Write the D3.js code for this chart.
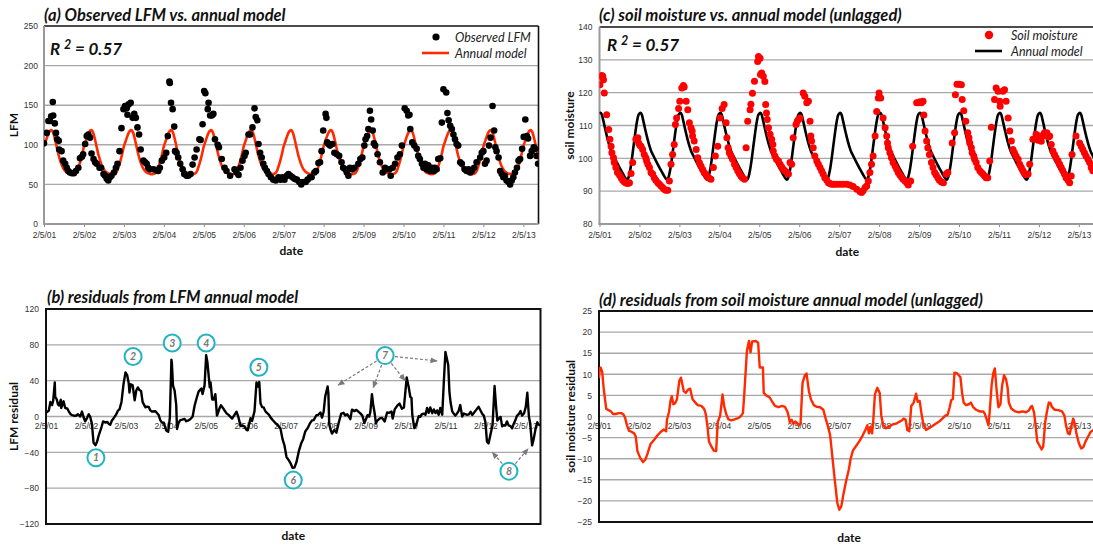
<!DOCTYPE html>
<html>
<head>
<meta charset="utf-8">
<script src="https://cdn.jsdelivr.net/npm/d3@7"></script>
<style>
  html, body { margin: 0; padding: 0; background: #fff; }
  svg { display: block; }
  text { font-family: "Liberation Sans", Arial, sans-serif; }
  .title { font-family: Lato, "Open Sans", sans-serif; font-weight: 700; font-style: italic; font-size: 16.5px; fill: #111; }
  .axis-title { font-family: Lato, "Open Sans", sans-serif; font-weight: 700; font-size: 12px; fill: #111; }
  .tick text { font-size: 8.5px; fill: #333; }
  .legend { font-family: Lato, "Open Sans", sans-serif; font-style: italic; font-size: 12.5px; fill: #222; }
  .r2 { font-family: Lato, "Open Sans", sans-serif; font-weight: 700; font-style: italic; font-size: 17px; fill: #111; }
  .anno { font-family: Lato, "Open Sans", sans-serif; font-weight: 700; font-style: italic; font-size: 10.5px; fill: #777; }
</style>
</head>
<body>
<svg id="chart" width="1093" height="546"></svg>
<script>
// ---- data -------------------------------------------------------------
// time is expressed in years elapsed since 2/5/01
const yearTickLabels = ["2/5/01","2/5/02","2/5/03","2/5/04","2/5/05","2/5/06","2/5/07",
                        "2/5/08","2/5/09","2/5/10","2/5/11","2/5/12","2/5/13"];
const timeEnd = 12.38;

// observed live fuel moisture samples [years, LFM]
const lfmObserved = [
  [0.00,102],[0.07,115],[0.11,130],[0.15,130],[0.18,136],[0.22,154],[0.23,137],[0.27,127],[0.30,115],[0.33,107],
  [0.37,105],[0.38,94],[0.44,92],[0.48,80],[0.53,76],[0.57,71],[0.61,67],[0.65,65],[0.70,64],[0.75,64],
  [0.80,67],[0.86,71],[0.90,83],[0.95,85],[0.98,88],[1.03,101],[1.07,111],[1.11,113],[1.15,109],[1.19,89],
  [1.24,82],[1.28,78],[1.32,76],[1.39,71],[1.43,71],[1.49,63],[1.53,61],[1.57,57],[1.61,55],[1.65,59],
  [1.69,61],[1.75,65],[1.80,71],[1.84,76],[1.89,92],[1.94,121],[1.99,145],[2.03,149],[2.07,146],[2.09,138],
  [2.12,151],[2.17,153],[2.22,134],[2.26,139],[2.30,134],[2.34,122],[2.38,113],[2.42,94],[2.49,80],[2.53,78],
  [2.57,76],[2.61,71],[2.65,69],[2.74,69],[2.82,68],[2.86,67],[2.90,71],[2.95,80],[3.01,84],[3.06,90],
  [3.10,111],[3.14,180],[3.15,178],[3.18,153],[3.22,145],[3.26,123],[3.28,92],[3.32,90],[3.36,84],[3.41,76],
  [3.47,69],[3.51,63],[3.57,61],[3.61,61],[3.67,63],[3.72,75],[3.77,84],[3.82,94],[3.89,107],[3.92,106],
  [3.97,126],[4.01,168],[4.04,165],[4.10,145],[4.12,153],[4.16,137],[4.20,137],[4.24,139],[4.28,107],[4.35,100],
  [4.38,97],[4.45,82],[4.52,71],[4.57,67],[4.66,61],[4.77,69],[4.82,65],[4.87,62],[4.92,71],[4.97,80],
  [5.02,86],[5.05,90],[5.12,113],[5.16,113],[5.22,122],[5.27,146],[5.30,135],[5.34,131],[5.37,101],[5.41,90],
  [5.45,84],[5.49,76],[5.53,71],[5.58,67],[5.62,63],[5.68,59],[5.74,56],[5.80,55],[5.87,59],[5.92,56],
  [5.97,59],[6.02,56],[6.08,61],[6.12,63],[6.17,61],[6.22,59],[6.27,57],[6.33,56],[6.39,53],[6.44,50],
  [6.49,53],[6.55,53],[6.60,56],[6.66,59],[6.70,59],[6.77,65],[6.81,67],[6.87,77],[6.91,78],[6.95,92],
  [6.99,118],[7.05,139],[7.07,134],[7.09,103],[7.12,101],[7.16,99],[7.22,101],[7.27,90],[7.33,88],[7.39,86],
  [7.45,78],[7.49,71],[7.54,69],[7.58,65],[7.62,61],[7.66,71],[7.72,69],[7.77,71],[7.87,76],[7.92,82],
  [7.97,84],[8.02,99],[8.05,107],[8.09,111],[8.12,120],[8.16,143],[8.19,132],[8.23,118],[8.26,102],[8.29,99],
  [8.35,88],[8.41,78],[8.48,65],[8.54,71],[8.58,69],[8.65,69],[8.68,61],[8.73,71],[8.79,76],[8.85,84],
  [8.91,88],[8.96,99],[9.03,146],[9.08,143],[9.12,137],[9.15,138],[9.17,120],[9.22,103],[9.27,99],[9.33,95],
  [9.37,86],[9.41,82],[9.46,76],[9.50,71],[9.54,76],[9.58,69],[9.62,74],[9.67,67],[9.71,71],[9.75,67],
  [9.79,71],[9.83,69],[9.87,82],[9.92,83],[9.96,128],[10.00,170],[10.07,166],[10.10,140],[10.13,131],[10.17,124],
  [10.21,120],[10.25,113],[10.29,107],[10.33,101],[10.37,99],[10.42,78],[10.46,76],[10.53,69],[10.58,67],[10.63,69],
  [10.67,65],[10.71,67],[10.77,71],[10.83,78],[10.92,84],[10.96,90],[11.00,92],[11.04,76],[11.08,80],[11.14,99],
  [11.18,109],[11.23,149],[11.27,118],[11.30,97],[11.33,92],[11.38,84],[11.42,67],[11.46,63],[11.50,59],[11.54,61],
  [11.58,55],[11.63,53],[11.67,50],[11.71,55],[11.75,59],[11.79,65],[11.84,71],[11.88,80],[11.92,82],[11.97,95],
  [12.01,110],[12.05,132],[12.09,111],[12.12,108],[12.17,86],[12.21,92],[12.26,97],[12.30,95],[12.33,86],[12.37,76]
];

// one year of the LFM annual model [fraction of year after 2/5, LFM]
const lfmModelProfile = [
  [0.00,98],[0.04,104],[0.08,110],[0.12,115],[0.16,118],[0.18,118.5],[0.20,118],[0.24,114],[0.28,106],
  [0.32,97],[0.36,88],[0.40,81],[0.44,75],[0.48,70.5],[0.52,67.5],[0.56,65.5],[0.60,64.3],[0.66,63.3],
  [0.72,63],[0.76,63.3],[0.80,64.5],[0.84,68],[0.88,74],[0.92,81],[0.96,89],[1.00,98]
];

// observed soil moisture samples [years, soil moisture]
const soilObserved = [
  [0.01,122.4],[0.04,124.9],[0.06,125.2],[0.08,125.0],[0.10,123.9],[0.12,119.9],[0.18,113.3],[0.23,108.8],[0.26,105.8],[0.29,103.7],
  [0.31,101.7],[0.35,100.2],[0.37,98.7],[0.41,97.2],[0.45,95.7],[0.50,94.9],[0.54,94.1],[0.58,93.3],[0.62,92.9],[0.66,92.5],
  [0.71,92.3],[0.75,92.6],[0.79,95.4],[0.83,98.7],[0.91,105.8],[0.96,106.3],[0.98,104.7],[1.01,104],[1.04,103.7],[1.08,102.7],
  [1.12,101.2],[1.16,100.2],[1.18,99.2],[1.21,98.2],[1.25,97.2],[1.29,95.7],[1.33,95.2],[1.37,94.1],[1.41,93.3],[1.46,92.6],
  [1.50,92.1],[1.54,91.6],[1.58,91.1],[1.62,90.6],[1.66,90.3],[1.71,90.3],[1.75,93.1],[1.79,98.2],[1.83,101.2],[1.87,104.2],
  [1.90,110.3],[1.93,112.3],[1.98,115.2],[2.01,117.4],[2.06,121.4],[2.10,122.2],[2.12,121.7],[2.17,117.4],[2.21,114.8],[2.25,110.8],
  [2.29,109.3],[2.32,108.3],[2.33,106.8],[2.37,105.3],[2.42,102.7],[2.46,100.2],[2.50,98.7],[2.54,97.7],[2.58,96.7],[2.62,95.7],
  [2.67,95],[2.71,94.3],[2.75,93.9],[2.79,93.6],[2.85,97.2],[2.90,100.7],[2.96,103.7],[3.02,112.3],[3.07,115.2],[3.12,116.4],
  [3.17,110.8],[3.19,106.3],[3.22,103.2],[3.25,101.7],[3.29,100.7],[3.33,99.7],[3.38,98.2],[3.42,97.2],[3.46,96.2],[3.50,95.4],
  [3.54,94.6],[3.58,94.1],[3.63,93.6],[3.67,103.2],[3.71,111.3],[3.77,114.8],[3.79,116.5],[3.83,119.8],[3.88,123.5],[3.96,129.5],
  [3.98,131],[4.02,130.5],[4.03,125.5],[4.06,126],[4.10,125],[4.14,123.4],[4.16,116.4],[4.18,113.8],[4.20,111.8],[4.23,109.3],
  [4.27,107.3],[4.31,105.8],[4.34,104.2],[4.35,102.2],[4.39,100.7],[4.43,99.7],[4.48,99.2],[4.52,98.2],[4.56,97.4],[4.60,96.7],
  [4.64,96.2],[4.69,95.7],[4.73,95.2],[4.77,98.7],[4.81,98.2],[4.85,106.3],[4.92,110.3],[4.95,111.3],[4.98,111.8],[5.02,112.3],
  [5.10,119.9],[5.14,118.9],[5.19,116.9],[5.23,117.4],[5.27,111.3],[5.29,106.8],[5.31,105.3],[5.35,103.2],[5.39,100.7],[5.44,99.2],
  [5.48,98.2],[5.52,97.2],[5.56,96.2],[5.60,95.2],[5.64,94.1],[5.69,93.3],[5.73,92.6],[5.77,92.3],[5.81,92.1],[5.87,92.1],
  [5.94,92.1],[6.02,92.1],[6.10,92.1],[6.19,92.1],[6.27,91.9],[6.35,91.4],[6.44,90.6],[6.52,89.9],[6.56,89.6],[6.60,90.1],
  [6.65,91.1],[6.69,91.6],[6.73,93.1],[6.77,95.7],[6.81,98.2],[6.85,100.7],[6.90,106.8],[6.94,114.3],[6.98,118.4],[7.00,119.9],
  [7.04,118.4],[7.10,112.3],[7.15,109.3],[7.19,106.8],[7.21,104.7],[7.23,103.2],[7.27,101.7],[7.31,100.2],[7.35,98.7],[7.40,97.7],
  [7.44,96.7],[7.48,95.7],[7.52,94.9],[7.56,94.3],[7.60,93.6],[7.65,93.1],[7.69,92.6],[7.73,91.9],[7.79,93.1],[7.84,103.7],
  [7.94,116.9],[7.98,116.9],[8.02,117.2],[8.06,116.9],[8.10,117.4],[8.12,113.2],[8.15,108.3],[8.19,105.3],[8.22,103.2],[8.26,101.2],
  [8.31,98.7],[8.35,97.2],[8.39,95.7],[8.43,94.9],[8.47,94.1],[8.51,93.3],[8.56,92.8],[8.61,92.6],[8.68,95.2],[8.72,95.7],
  [8.83,104.7],[8.89,107.8],[8.91,119.4],[8.95,122.6],[9.00,122.6],[9.06,122.4],[9.08,117.9],[9.12,114.5],[9.17,111.3],[9.22,107.8],
  [9.25,106.3],[9.27,104.7],[9.31,103.2],[9.33,101.7],[9.37,100.7],[9.39,99.7],[9.43,98.7],[9.47,97.2],[9.52,96.2],[9.56,95.7],
  [9.60,95.2],[9.64,94.6],[9.68,94.1],[9.72,94.1],[9.77,99.2],[9.81,109.5],[9.89,117.9],[9.93,121.4],[9.98,120.4],[10.02,117.4],
  [10.03,115.9],[10.10,120.4],[10.14,120.9],[10.18,117.4],[10.23,112.3],[10.27,108.3],[10.31,105.3],[10.35,102.7],[10.39,101.7],[10.43,100.7],
  [10.48,99.7],[10.52,98.2],[10.56,97.2],[10.60,96.2],[10.64,95.4],[10.68,95],[10.73,95.2],[10.77,98.2],[10.85,105.8],[10.93,107.3],
  [10.98,105.5],[11.02,106.8],[11.06,105.2],[11.10,106.8],[11.14,107.8],[11.20,107.8],[11.24,106.5],[11.27,106.8],[11.31,104.2],[11.35,102.2],
  [11.39,101.2],[11.43,100.2],[11.48,99.2],[11.52,98.2],[11.56,97.2],[11.60,96.2],[11.64,95.2],[11.68,94.1],[11.73,93.3],[11.77,92.6],
  [11.81,94.6],[11.83,101.2],[11.93,106.8],[12.02,104.7],[12.06,103.7],[12.10,102.7],[12.14,101.7],[12.18,100.7],[12.23,99.7],[12.27,98.7],
  [12.31,97.2],[12.35,96.2]
];

// one year of the (unlagged) soil moisture annual model [fraction of year after 2/5, value]
const soilModelProfile = [
  [0.00,113.6],[0.03,113.9],[0.06,113.3],[0.09,111.8],[0.12,110.2],[0.16,108],[0.20,106],[0.25,103.8],
  [0.30,102],[0.35,100.8],[0.41,99.3],[0.47,97.9],[0.54,96.3],[0.60,95],[0.65,94],[0.69,93.5],[0.73,94.3],
  [0.77,96.5],[0.81,99.7],[0.85,103.5],[0.89,107.2],[0.93,110.6],[0.97,113],[1.00,113.6]
];

// soil moisture residuals from the annual model [years, residual]
const soilResidual = [
  [0.00,9.1],[0.02,11.4],[0.04,11.6],[0.08,10.6],[0.12,6.4],[0.18,1.8],[0.24,1.5],[0.30,1.2],[0.35,0.6],[0.41,0.6],
  [0.50,0.8],[0.56,0.8],[0.61,0.5],[0.65,-0.2],[0.70,-2.1],[0.75,-3.4],[0.81,-3.6],[0.88,-4.0],[0.92,-4.8],[0.96,-8.2],
  [1.03,-9.8],[1.10,-10.8],[1.16,-10.2],[1.22,-8.6],[1.29,-6.5],[1.38,-5.5],[1.46,-4.5],[1.55,-3.6],[1.62,-3.1],[1.68,-3.5],
  [1.70,-0.7],[1.75,1.0],[1.79,3.8],[1.82,4.8],[1.86,2.9],[1.90,3.1],[1.95,4.1],[2.01,8.5],[2.05,9.2],[2.08,7.9],
  [2.12,6.0],[2.17,5.6],[2.23,6.4],[2.28,6.6],[2.34,4.1],[2.41,3.3],[2.47,2.7],[2.56,2.5],[2.63,1.8],[2.67,0.6],
  [2.71,-2.1],[2.75,-5.9],[2.81,-7.1],[2.87,-8.1],[2.93,-8.2],[2.97,-1.3],[3.03,0.2],[3.09,5.2],[3.13,2.5],[3.18,0.6],
  [3.24,-0.7],[3.31,-0.9],[3.39,-0.7],[3.48,-0.4],[3.55,0.1],[3.60,0.8],[3.63,4.8],[3.67,11.0],[3.70,15.6],[3.75,17.9],
  [3.79,15.2],[3.83,17.8],[3.92,17.9],[3.98,17.5],[4.02,11.6],[4.10,11.6],[4.12,5.6],[4.18,5.0],[4.27,4.5],[4.32,3.7],
  [4.40,2.5],[4.49,2.2],[4.58,2.5],[4.65,2.3],[4.71,1.2],[4.75,-0.2],[4.77,-1.3],[4.82,-0.8],[4.86,-1.7],[4.91,-1.2],
  [4.95,-1.5],[5.00,-2.1],[5.04,-1.7],[5.09,7.9],[5.15,9.8],[5.19,10.2],[5.25,6.0],[5.30,4.1],[5.37,2.7],[5.44,2.3],
  [5.53,2.2],[5.61,1.6],[5.66,-0.2],[5.72,-2.1],[5.78,-4.4],[5.83,-9.0],[5.89,-14.4],[5.96,-20.5],[6.01,-22.1],[6.06,-21.3],
  [6.11,-18.6],[6.18,-15.3],[6.25,-12.5],[6.29,-10.2],[6.35,-8.1],[6.42,-7.1],[6.51,-5.9],[6.60,-4.4],[6.67,-3.0],[6.71,-2.1],
  [6.75,-4.0],[6.79,-2.5],[6.83,-4.0],[6.86,-0.9],[6.90,5.2],[6.96,6.8],[7.02,5.6],[7.06,0.2],[7.11,-2.1],[7.17,-2.8],
  [7.25,-2.5],[7.34,-1.9],[7.43,-1.7],[7.52,-1.2],[7.58,-0.9],[7.62,-0.5],[7.67,-0.8],[7.71,-3.2],[7.76,-3.5],[7.81,2.5],
  [7.87,3.3],[7.93,5.4],[7.97,3.5],[8.02,3.7],[8.06,1.0],[8.11,-1.7],[8.18,-3.2],[8.25,-2.8],[8.33,-2.3],[8.42,-1.7],
  [8.51,-1.2],[8.60,-0.4],[8.66,0.2],[8.72,0.4],[8.77,2.2],[8.81,3.9],[8.85,4.1],[8.89,10.4],[8.96,10.2],[9.04,9.3],
  [9.08,5.6],[9.12,3.3],[9.18,2.7],[9.25,2.9],[9.30,3.3],[9.36,2.2],[9.43,1.6],[9.52,1.2],[9.61,1.2],[9.65,0.6],
  [9.69,-0.5],[9.74,-2.1],[9.77,1.0],[9.82,7.5],[9.86,10.2],[9.90,11.4],[9.95,5.6],[9.99,2.2],[10.04,2.9],[10.08,7.2],
  [10.13,9.8],[10.18,8.8],[10.22,6.8],[10.25,3.3],[10.31,1.9],[10.41,1.2],[10.50,1.0],[10.59,1.2],[10.68,1.0],[10.75,1.4],
  [10.80,2.3],[10.83,2.5],[10.88,1.0],[10.92,-2.1],[10.96,-5.9],[11.03,-7.1],[11.07,-7.8],[11.11,-7.1],[11.16,-1.3],[11.20,1.0],
  [11.25,3.3],[11.29,3.2],[11.33,2.2],[11.40,1.6],[11.49,1.5],[11.58,1.2],[11.64,0.2],[11.68,-2.1],[11.73,-4.0],[11.77,-4.2],
  [11.82,-2.1],[11.86,-0.5],[11.90,-1.7],[11.94,-4.0],[12.00,-6.3],[12.06,-7.6],[12.11,-7.3],[12.17,-5.9],[12.23,-4.8],[12.30,-3.6],
  [12.37,-3.2]
];

const lfmTicks = [0, 50, 100, 150, 200, 250];
const soilTicks = [80, 90, 100, 110, 120, 130, 140];
const lfmResidualTicks = [-120, -80, -40, 0, 40, 80, 120];
const soilResidualTicks = [-25, -20, -15, -10, -5, 0, 5, 10, 15, 20, 25];

// numbered call-outs on the LFM residual panel [label, years, residual]
const callouts = [["1",1.25,-46],["2",2.18,67],["3",3.16,82],["4",4.01,82],["5",5.33,55],["6",6.19,-71],["7",8.49,68],["8",11.59,-61]];
// dashed pointers from call-outs [label, target years, target residual]
const pointers = [["7",7.31,35],["7",8.19,32],["7",8.99,40],["7",9.79,62],["8",11.17,-40],["8",12.07,-36]];

// ---- helpers ------------------------------------------------------------
const svg = d3.select("#chart");
const LINE_RED = "#ff2a00";

function modelAt(profile, u) {
  const ph = u - Math.floor(u);
  for (let i = 1; i < profile.length; i++) {
    if (ph <= profile[i][0]) {
      const [p0, v0] = profile[i - 1], [p1, v1] = profile[i];
      return v0 + (v1 - v0) * (ph - p0) / (p1 - p0);
    }
  }
  return profile[profile.length - 1][1];
}

// the annual model repeats its one-year profile across the record
function modelSeries(profile) {
  const pts = [];
  for (let yr = 0; yr <= 12; yr++) {
    profile.forEach(([p, v], i) => {
      if (i === profile.length - 1) return;
      pts.push([yr + p, v]);
    });
  }
  return pts.filter(d => d[0] <= timeEnd + 0.1);
}

function residuals(obs, profile) {
  return obs.map(([u, v]) => [u, v - modelAt(profile, u)]);
}

let clipId = 0;
function panel(o) {
  const x = d3.scaleLinear().domain([0, timeEnd]).range([o.left, o.right]);
  const y = d3.scaleLinear().domain(o.yDomain).range([o.bottom, o.top]);
  const g = svg.append("g");
  const id = "clip" + (clipId++);
  g.append("clipPath").attr("id", id).append("rect")
    .attr("x", o.left).attr("y", o.top).attr("width", o.right - o.left).attr("height", o.bottom - o.top);

  // horizontal grid
  g.append("g").selectAll("line")
    .data(o.yTicks.filter(t => t !== o.yDomain[0] && t !== o.yDomain[1]))
    .join("line")
    .attr("x1", o.left).attr("x2", o.right)
    .attr("y1", d => y(d)).attr("y2", d => y(d))
    .attr("stroke", "#a9a9a9").attr("stroke-width", 1.4);

  // y axis labels
  const ya = g.append("g").attr("transform", `translate(${o.left},0)`)
    .call(d3.axisLeft(y).tickValues(o.yTicks).tickSize(0).tickPadding(o.yPad));
  ya.select(".domain").remove();

  // x axis labels
  const xAxisY = o.xAxisAt === undefined ? o.bottom : y(o.xAxisAt);
  const xa = g.append("g").attr("transform", `translate(0,${xAxisY})`)
    .call(d3.axisBottom(x).tickValues(d3.range(yearTickLabels.length))
      .tickFormat(i => yearTickLabels[i]).tickSize(o.xTickSize).tickPadding(o.xPad));
  xa.select(".domain").remove();
  xa.selectAll(".tick line").attr("stroke", "#888").attr("stroke-width", 1);

  // frame
  if (o.frame === "open") {
    g.append("line").attr("x1", o.left).attr("x2", o.right).attr("y1", o.top).attr("y2", o.top)
      .attr("stroke", "#111").attr("stroke-width", 1.6);
    g.append("line").attr("x1", o.right).attr("x2", o.right).attr("y1", o.top).attr("y2", o.bottom)
      .attr("stroke", "#111").attr("stroke-width", 1.6);
    g.append("line").attr("x1", o.left).attr("x2", o.left).attr("y1", o.top).attr("y2", o.bottom + 1)
      .attr("stroke", "#999").attr("stroke-width", 2);
    g.append("line").attr("x1", o.left - 1).attr("x2", o.right).attr("y1", o.bottom).attr("y2", o.bottom)
      .attr("stroke", "#999").attr("stroke-width", 2);
  } else {
    g.append("rect").attr("x", o.left).attr("y", o.top)
      .attr("width", o.right - o.left).attr("height", o.bottom - o.top)
      .attr("fill", "none").attr("stroke", "#111").attr("stroke-width", 2);
  }

  // titles
  svg.append("text").attr("class", "title").attr("x", o.titleX).attr("y", o.titleY).text(o.title);
  svg.append("text").attr("class", "axis-title")
    .attr("transform", `translate(${o.yTitleX},${(o.top + o.bottom) / 2}) rotate(-90)`)
    .attr("text-anchor", "middle").text(o.yTitle);
  svg.append("text").attr("class", "axis-title").attr("text-anchor", "middle")
    .attr("x", (o.left + Math.min(o.right, 1093)) / 2 + (o.dateShift || 0)).attr("y", o.dateY).text("date");

  const plot = g.append("g").attr("clip-path", `url(#${id})`);
  return { x, y, g, plot };
}

function r2Label(xPos, yPos) {
  const t = svg.append("text").attr("class", "r2").attr("x", xPos).attr("y", yPos);
  t.append("tspan").text("R ");
  t.append("tspan").attr("dy", -6).attr("font-size", 12.5).text("2");
  t.append("tspan").attr("dy", 6).text(" = 0.57");
}

// ---- (a) observed LFM vs annual model -----------------------------------
{
  const p = panel({ left: 44, right: 538.5, top: 26, bottom: 224, yDomain: [0, 250], yTicks: lfmTicks,
    yPad: 6, xTickSize: 3, xPad: 5, frame: "open",
    title: "(a) Observed LFM vs. annual model", titleX: 44, titleY: 21,
    yTitle: "LFM", yTitleX: 18, dateY: 255 });
  const line = d3.line().x(d => p.x(d[0])).y(d => p.y(d[1])).curve(d3.curveMonotoneX);
  p.plot.append("path").datum(modelSeries(lfmModelProfile)).attr("d", line)
    .attr("fill", "none").attr("stroke", LINE_RED).attr("stroke-width", 2.6);
  p.plot.append("g").selectAll("circle").data(lfmObserved).join("circle")
    .attr("cx", d => p.x(d[0])).attr("cy", d => p.y(d[1])).attr("r", 3.3).attr("fill", "#000");
  r2Label(50, 55);
  // legend
  svg.append("circle").attr("cx", 436).attr("cy", 37).attr("r", 3.6).attr("fill", "#000");
  svg.append("text").attr("class", "legend").attr("x", 455).attr("y", 41.5).text("Observed LFM");
  svg.append("line").attr("x1", 422).attr("x2", 449).attr("y1", 53).attr("y2", 53)
    .attr("stroke", LINE_RED).attr("stroke-width", 2.6);
  svg.append("text").attr("class", "legend").attr("x", 455).attr("y", 57.5).text("Annual model");
}

// ---- (c) soil moisture vs annual model ----------------------------------
{
  const p = panel({ left: 599.5, right: 1094, top: 27, bottom: 224, yDomain: [80, 140], yTicks: soilTicks,
    yPad: 7, xTickSize: 3, xPad: 5, frame: "open",
    title: "(c) soil moisture vs. annual model (unlagged)", titleX: 599, titleY: 21,
    yTitle: "soil moisture", yTitleX: 574, dateY: 256, dateShift: 1 });
  const line = d3.line().x(d => p.x(d[0])).y(d => p.y(d[1])).curve(d3.curveMonotoneX);
  p.plot.append("path").datum(modelSeries(soilModelProfile)).attr("d", line)
    .attr("fill", "none").attr("stroke", "#000").attr("stroke-width", 2.6);
  p.plot.append("g").selectAll("circle").data(soilObserved).join("circle")
    .attr("cx", d => p.x(d[0])).attr("cy", d => p.y(d[1])).attr("r", 3.5).attr("fill", "#ff0000");
  r2Label(607, 51);
  svg.append("circle").attr("cx", 989).attr("cy", 35).attr("r", 4.2).attr("fill", "#ff0000");
  svg.append("text").attr("class", "legend").attr("x", 1011).attr("y", 39.5).text("Soil moisture");
  svg.append("line").attr("x1", 975).attr("x2", 1002).attr("y1", 51).attr("y2", 51)
    .attr("stroke", "#000").attr("stroke-width", 2.6);
  svg.append("text").attr("class", "legend").attr("x", 1011).attr("y", 55.5).text("Annual model");
}

// ---- (b) residuals from LFM annual model --------------------------------
{
  const p = panel({ left: 46, right: 540.5, top: 309, bottom: 524, yDomain: [-120, 120], yTicks: lfmResidualTicks,
    yPad: 7, xTickSize: 0, xPad: 6, xAxisAt: 0, frame: "box",
    title: "(b) residuals from LFM annual model", titleX: 47, titleY: 303,
    yTitle: "LFM residual", yTitleX: 18, dateY: 540 });
  const line = d3.line().x(d => p.x(d[0])).y(d => p.y(d[1]));
  p.plot.append("path").datum(residuals(lfmObserved, lfmModelProfile)).attr("d", line)
    .attr("fill", "none").attr("stroke", "#000").attr("stroke-width", 2.4).attr("stroke-linejoin", "round");

  // dashed pointers
  const defs = svg.append("defs");
  defs.append("marker").attr("id", "arrowhead").attr("viewBox", "0 0 10 10")
    .attr("refX", 9).attr("refY", 5).attr("markerWidth", 6).attr("markerHeight", 6)
    .attr("orient", "auto-start-reverse")
    .append("path").attr("d", "M0,1 L10,5 L0,9 z").attr("fill", "#7a7a7a");
  const byLabel = new Map(callouts.map(c => [c[0], c]));
  svg.append("g").selectAll("line").data(pointers).join("line")
    .each(function (d) {
      const c = byLabel.get(d[0]);
      const cx = p.x(c[1]), cy = p.y(c[2]);
      const tx = p.x(d[1]), ty = p.y(d[2]);
      const len = Math.hypot(tx - cx, ty - cy);
      d3.select(this)
        .attr("x1", cx + (tx - cx) / len * 10).attr("y1", cy + (ty - cy) / len * 10)
        .attr("x2", tx).attr("y2", ty);
    })
    .attr("stroke", "#7a7a7a").attr("stroke-width", 1.2).attr("stroke-dasharray", "3,2")
    .attr("marker-end", "url(#arrowhead)");

  const cg = svg.append("g").selectAll("g").data(callouts).join("g")
    .attr("transform", d => `translate(${p.x(d[1])},${p.y(d[2])})`);
  cg.append("circle").attr("r", 8.5).attr("fill", "#fff").attr("stroke", "#22b3c3").attr("stroke-width", 2);
  cg.append("text").attr("class", "anno").attr("text-anchor", "middle").attr("dy", "0.36em").text(d => d[0]);
}

// ---- (d) residuals from soil moisture annual model ----------------------
{
  const p = panel({ left: 599, right: 1094, top: 311, bottom: 522, yDomain: [-25, 25], yTicks: soilResidualTicks,
    yPad: 7, xTickSize: 0, xPad: 6, xAxisAt: 0, frame: "box",
    title: "(d) residuals from soil moisture annual model (unlagged)", titleX: 599, titleY: 306,
    yTitle: "soil moisture residual", yTitleX: 575, dateY: 542, dateShift: 3 });
  const line = d3.line().x(d => p.x(d[0])).y(d => p.y(d[1]));
  p.plot.append("path").datum(soilResidual).attr("d", line)
    .attr("fill", "none").attr("stroke", LINE_RED).attr("stroke-width", 2.4).attr("stroke-linejoin", "round");
}
</script>
</body>
</html>
